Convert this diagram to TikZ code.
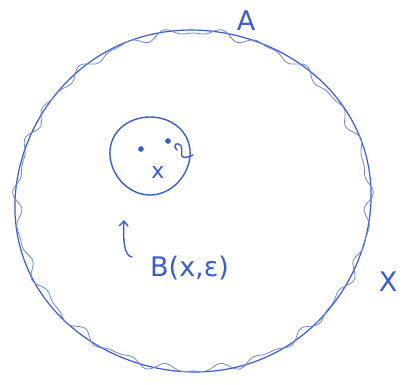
\documentclass[tikz,border=0pt]{standalone}
\usepackage{fontspec}
\setsansfont{DejaVu Sans}
\usetikzlibrary{arrows.meta}
\definecolor{ink}{HTML}{3B5BD0}
\definecolor{inklight}{HTML}{6F86D8}
\tikzset{
  pen/.style={draw=ink, line width=1.4pt, line cap=round, line join=round},
  thinpen/.style={draw=inklight, line width=0.8pt, line cap=round},
  lbl/.style={text=ink, font=\sffamily\fontsize{27}{27}\selectfont, inner sep=0pt},
}
\begin{document}
\begin{tikzpicture}[x=1pt,y=1pt]
\useasboundingbox (0,0) rectangle (413,-385);
% big set X
\draw[draw=ink, line width=1.2pt] plot[smooth cycle, domain=0:355, samples=72]
  ({193+178*cos(\x)+2*sin(3*\x)}, {-201+171*sin(\x)});
% wavy boundary A
\draw[thinpen] plot[smooth cycle, domain=0:358, samples=240]
  ({193+(176+3*sin(23*\x)+2*sin(37*\x))*cos(\x)}, {-201+(169+3*sin(23*\x)+2*sin(37*\x))*sin(\x)});
% small ball
\draw[pen] plot[smooth cycle, domain=0:350, samples=36]
  ({150+40*cos(\x)+1.5*sin(2*\x)}, {-156+39*sin(\x)});
\node[circle, fill=ink, inner sep=2pt] (d1) at (141,-149) {};
\node[circle, fill=ink, inner sep=2pt] (d2) at (168,-141) {};
\node[text=ink, font=\sffamily\fontsize{22}{22}\selectfont, inner sep=0pt] (xc) at (158,-172) {x};
\draw[pen] (177,-150) .. controls (172,-145) and (177,-141) .. (181,-146) .. controls (184,-152) and (176,-162) .. (193,-155);
\coordinate (c) at (177,-150);
% arrow
\coordinate (arS) at (132,-257);
\coordinate (arE) at (124,-220);
\draw[pen, -{Straight Barb[length=5pt,width=9pt]}] (arS) .. controls (124,-256) and (123,-240) .. (arE);
% labels
\node[lbl, anchor=west] (B) at (150,-268) {B(x,ε)};
\node[lbl] (A) at (246,-21) {A};
\node[lbl] (X) at (388,-282) {X};
\end{tikzpicture}
\end{document}
